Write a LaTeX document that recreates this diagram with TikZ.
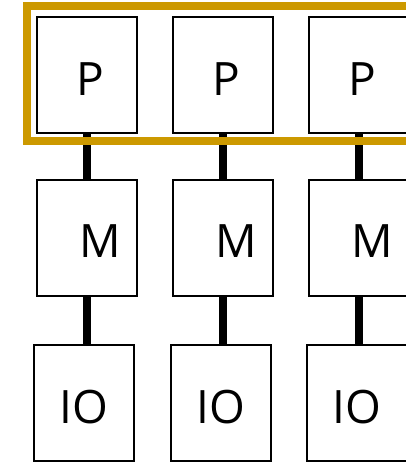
\documentclass[tikz,border=0pt]{standalone}
\usepackage{fontspec}
\setmainfont{Open Sans}
\usepackage{tikz}
\usetikzlibrary{calc}
\definecolor{gold}{RGB}{204,153,0}
\tikzstyle{unit}=[draw=black, line width=2pt, minimum width=100pt, minimum height=116pt, inner sep=0pt]
\tikzstyle{tag}=[inner sep=0pt, font=\fontsize{46}{48}\selectfont]
\tikzstyle{bus}=[line width=8pt]

\begin{document}
\begin{tikzpicture}
        [x=1pt,y=-1pt]
            \useasboundingbox (0,0) rectangle (406,464);
            % processor row, memory row, io row
            \foreach \i/\px/\ix in {1/87/84,2/223/220.5,3/359/357} {
                \node [unit] (p\i) at (\px,75) {};
                \node [unit] (m\i) at (\px,237.5) {};
                \node [unit] (io\i) at (\ix,403) {};
                \node [tag] (pt\i) at ($(p\i.center)+(3,4)$) {P};
                \node [tag] (mt\i) at ($(m\i.center)+(13,4)$) {M};
                \node [tag] (iot\i) at ($(io\i.center)+(0,4)$) {IO};
                \draw [bus] (p\i.south) -- (m\i.north);
                \draw [bus] (m\i.south) -- (m\i.south |- io\i.north);
            }
            \draw [gold, line width=8pt] (420,6) -| (27,141) -- (420,141);
        \end{tikzpicture}
\end{document}
